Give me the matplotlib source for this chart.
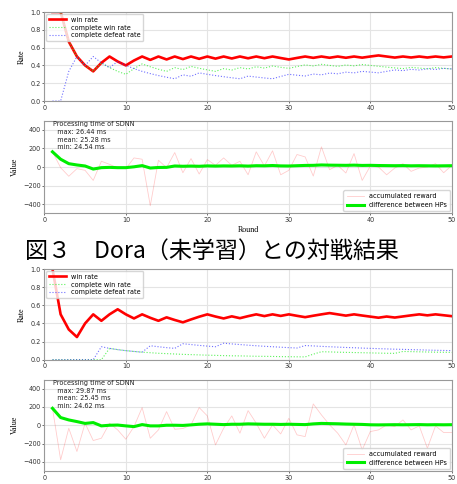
import matplotlib.pyplot as plt

rounds = list(range(1, 51))

# upper pair
win_rate_a = [1.0, 1.0, 0.667, 0.5, 0.4, 0.333, 0.429, 0.5, 0.444, 0.4,
              0.455, 0.5, 0.462, 0.5, 0.467, 0.5, 0.471, 0.5, 0.474, 0.5,
              0.476, 0.5, 0.478, 0.5, 0.48, 0.5, 0.481, 0.5, 0.483, 0.467,
              0.484, 0.5, 0.485, 0.5, 0.486, 0.5, 0.486, 0.5, 0.487, 0.5,
              0.512, 0.5, 0.488, 0.5, 0.489, 0.5, 0.489, 0.5, 0.49, 0.5]
complete_win_a = [1.0, 1.0, 0.667, 0.5, 0.4, 0.333, 0.429, 0.375, 0.333, 0.3,
                  0.364, 0.417, 0.385, 0.357, 0.333, 0.375, 0.353, 0.389, 0.368, 0.35,
                  0.333, 0.364, 0.348, 0.375, 0.36, 0.385, 0.37, 0.393, 0.379, 0.367,
                  0.387, 0.406, 0.394, 0.412, 0.4, 0.389, 0.405, 0.395, 0.41, 0.4,
                  0.39, 0.381, 0.372, 0.364, 0.378, 0.37, 0.362, 0.375, 0.367, 0.36]
complete_defeat_a = [0.0, 0.0, 0.333, 0.5, 0.4, 0.5, 0.429, 0.375, 0.444, 0.4,
                     0.364, 0.333, 0.308, 0.286, 0.267, 0.25, 0.294, 0.278, 0.316, 0.3,
                     0.286, 0.273, 0.261, 0.25, 0.28, 0.269, 0.259, 0.25, 0.276, 0.3,
                     0.29, 0.281, 0.303, 0.294, 0.314, 0.306, 0.324, 0.316, 0.333, 0.325,
                     0.317, 0.333, 0.349, 0.341, 0.356, 0.348, 0.362, 0.354, 0.367, 0.36]
hp_diff_a = [164, 84, 36, 22, 11, -22, -7, -4, -7, -7,
             2, 15, -11, -5, -4, 11, 8, 10, 8, 12,
             10, 12, 11, 13, 10, 14, 13, 16, 12, 11,
             14, 17, 18, 22, 20, 19, 18, 20, 17, 18,
             16, 15, 14, 15, 13, 14, 13, 12, 13, 14]
reward_a = [164, -7, -100, -18, -36, -145, 62, 29, -11, -18,
            98, 84, -418, 73, -7, 156, -62, 91, -76, 80,
            18, 98, 18, 62, -84, 164, 11, 175, -84, -36,
            135, 109, -98, 218, -29, 18, -65, 145, -145, 11,
            0, -84, -11, 36, -47, -11, 0, 36, -62, 18]
times_a = [26.44, 25.28, 24.54]

# lower pair
win_rate_b = [1.0, 0.5, 0.333, 0.25, 0.4, 0.5, 0.429, 0.5, 0.556, 0.5,
              0.455, 0.5, 0.462, 0.429, 0.467, 0.438, 0.412, 0.444, 0.474, 0.5,
              0.476, 0.455, 0.478, 0.458, 0.48, 0.5, 0.481, 0.5, 0.483, 0.5,
              0.484, 0.469, 0.485, 0.5, 0.514, 0.5, 0.486, 0.5, 0.487, 0.475,
              0.463, 0.476, 0.465, 0.477, 0.489, 0.5, 0.489, 0.5, 0.49, 0.48]
complete_win_b = [0, 0, 0, 0, 0, 0, 0, 0.125, 0.111, 0.1,
                  0.091, 0.083, 0.077, 0.071, 0.067, 0.063, 0.059, 0.056, 0.053, 0.05,
                  0.048, 0.045, 0.043, 0.042, 0.04, 0.038, 0.037, 0.036, 0.034, 0.033,
                  0.032, 0.031, 0.061, 0.088, 0.086, 0.083, 0.081, 0.079, 0.077, 0.075,
                  0.073, 0.071, 0.07, 0.091, 0.089, 0.087, 0.085, 0.083, 0.082, 0.08]
complete_defeat_b = [0, 0, 0, 0, 0, 0, 0.143, 0.125, 0.111, 0.1,
                     0.091, 0.083, 0.154, 0.143, 0.133, 0.125, 0.176, 0.167, 0.158, 0.15,
                     0.143, 0.182, 0.174, 0.167, 0.16, 0.154, 0.148, 0.143, 0.138, 0.133,
                     0.129, 0.156, 0.152, 0.147, 0.143, 0.139, 0.135, 0.132, 0.128, 0.125,
                     0.122, 0.119, 0.116, 0.114, 0.111, 0.109, 0.106, 0.104, 0.102, 0.1]
hp_diff_b = [185, 84, 58, 40, 20, 29, -7, 0, 2, -7,
             -15, 7, -7, -7, 0, 0, -2, 4, 11, 15,
             11, 7, 11, 11, 15, 13, 11, 11, 9, 11,
             9, 7, 15, 20, 18, 16, 13, 11, 9, 5,
             4, 5, 6, 5, 6, 7, 5, 6, 5, 6]
reward_b = [185, -378, -33, -287, 22, -167, -142, 22, -51, -153,
            -15, 193, -142, -51, 149, -44, -36, 4, 193, 102,
            -215, -33, 102, -87, 160, 22, -142, 4, -95, 76,
            -105, -124, 233, 113, 4, -87, -215, 4, -269, -69,
            -51, 4, -15, 58, -51, -7, -251, -7, -80, -80]
times_b = [29.87, 25.45, 24.62]

caption = "図３　Dora（未学習）との対戦結果"

FS = 4.7
LABEL_FS = 5.8


def style(ax):
    ax.set_xlim(0, 50)
    ax.set_xticks([0, 10, 20, 30, 40, 50])
    ax.grid(True, color="#e4e4e4", lw=0.8)
    ax.set_axisbelow(True)
    ax.tick_params(labelsize=FS, length=1.5, width=0.5, pad=1.2, colors="#333333")
    for s in ax.spines.values():
        s.set_color("#999999")
        s.set_linewidth(0.8)


def rate_plot(ax, wr, cw, cd):
    style(ax)
    ax.plot(rounds, wr, color="red", lw=1.9, label="win rate")
    ax.plot(rounds, cw, color="#33ee33", lw=0.8, ls=":", alpha=0.8, label="complete win rate")
    ax.plot(rounds, cd, color="#3333ff", lw=0.8, ls=":", alpha=0.7, label="complete defeat rate")
    ax.set_ylim(0, 1.0)
    ax.set_yticks([0, 0.2, 0.4, 0.6, 0.8, 1.0])
    ax.set_ylabel("Rate", family="Liberation Serif", fontsize=LABEL_FS, labelpad=3)
    ax.legend(loc="upper left", fontsize=FS, handlelength=2.6, borderpad=0.4,
              labelspacing=0.3, borderaxespad=0.3)


def value_plot(ax, reward, diff, t):
    style(ax)
    ax.plot(rounds, reward, color="red", lw=0.6, alpha=0.2, label="accumulated reward")
    ax.plot(rounds, diff, color="#00ee00", lw=2.2, label="difference between HPs")
    ax.set_ylim(-500, 500)
    ax.set_yticks([-400, -200, 0, 200, 400])
    ax.set_ylabel("Value", family="Liberation Serif", fontsize=LABEL_FS, labelpad=3)
    ax.set_xlabel("Round", family="Liberation Serif", fontsize=LABEL_FS, labelpad=2)
    txt = "Processing time of SDNN\n  max: %.2f ms\n  mean: %.2f ms\n  min: %.2f ms" % (t[0], t[1], t[2])
    ax.text(0.021, 0.995, txt, transform=ax.transAxes, fontsize=FS, va="top", ha="left",
            color="#222222", linespacing=1.35)
    ax.legend(loc="lower right", fontsize=FS, handlelength=2.6, borderpad=0.5,
              labelspacing=0.4, borderaxespad=0.3)


fig = plt.figure(figsize=(4.57, 4.84), dpi=100)
ax1 = fig.add_axes([0.097, 0.7913, 0.8917, 0.1839])
ax2 = fig.add_axes([0.097, 0.5593, 0.8917, 0.1913])
ax3 = fig.add_axes([0.097, 0.2568, 0.8917, 0.1874])
ax4 = fig.add_axes([0.097, 0.0269, 0.8917, 0.1890])

rate_plot(ax1, win_rate_a, complete_win_a, complete_defeat_a)
value_plot(ax2, reward_a, hp_diff_a, times_a)
rate_plot(ax3, win_rate_b, complete_win_b, complete_defeat_b)
value_plot(ax4, reward_b, hp_diff_b, times_b)

fig.text(0.055, 0.481, caption, fontsize=16.6, va="center", ha="left",
         family=["Noto Sans CJK JP", "DejaVu Sans"])

fig.savefig("out.png", dpi=100)
